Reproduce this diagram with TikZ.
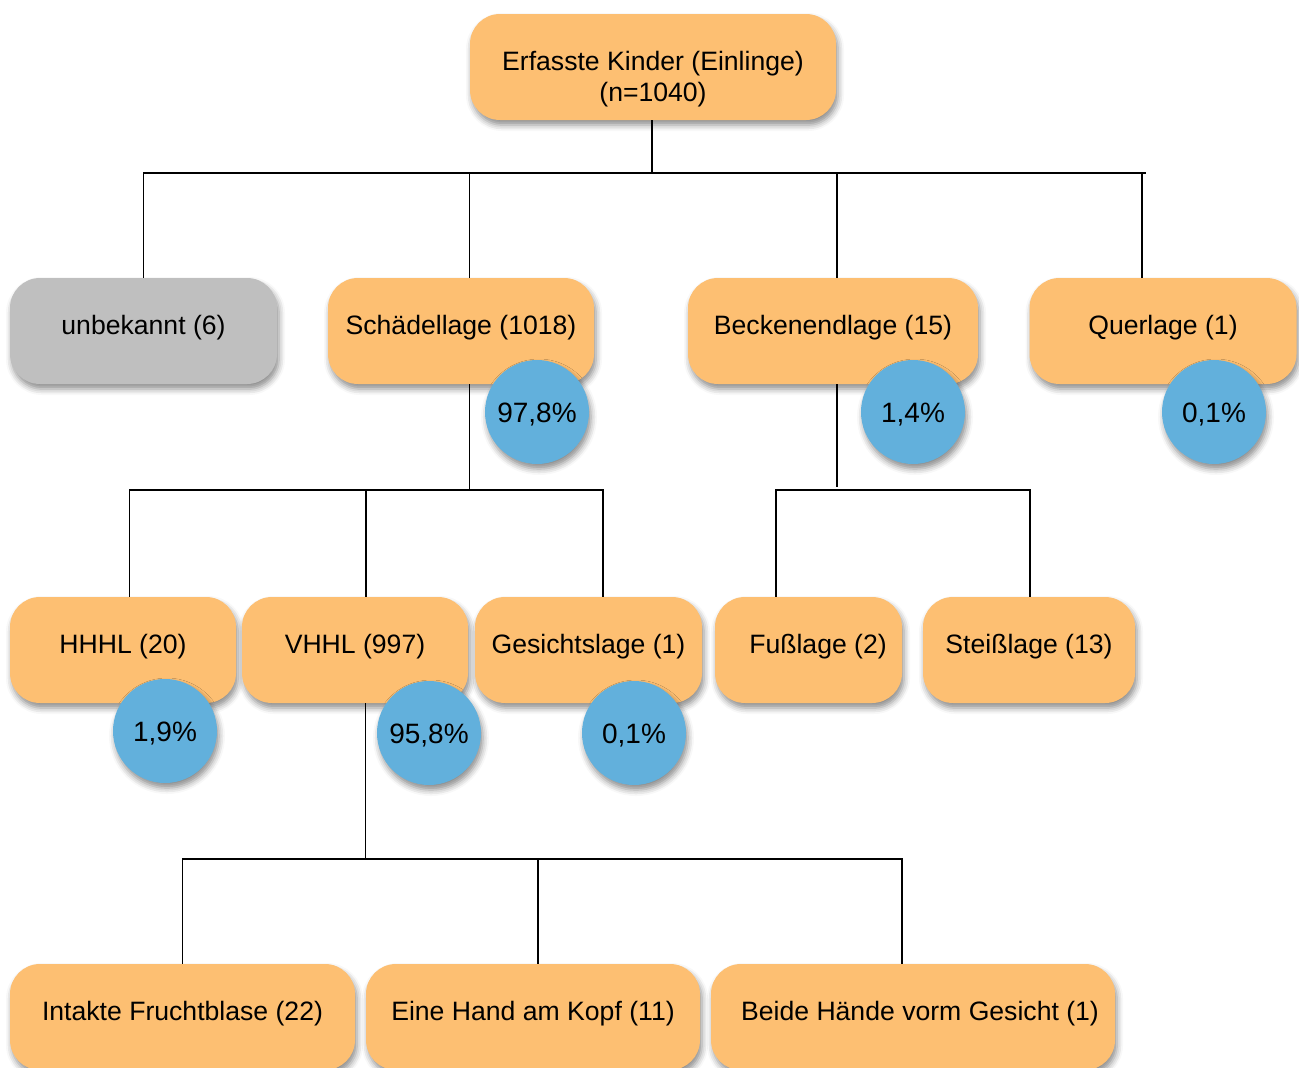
\documentclass[tikz,border=0pt]{standalone}
\usepackage{fontspec}
\setmainfont{Liberation Sans}
\usepackage{xcolor}
\usetikzlibrary{shadows.blur}
\definecolor{lageorange}{HTML}{FDBF72}
\definecolor{lagegray}{HTML}{BFBFBF}
\definecolor{anteilblue}{HTML}{62B0DC}

\begin{document}
\begin{tikzpicture}[x=1pt,y=-1pt]

		\tikzset{lage/.style = {shape=rectangle,rounded corners=30pt,fill=lageorange,minimum height=106pt,inner sep=0pt,
			font=\fontsize{26.6}{31}\selectfont,text height=20pt,text depth=13pt,
			blur shadow={shadow xshift=2pt,shadow yshift=-5pt,shadow blur radius=6pt,shadow opacity=45}}}
		\tikzset{anteil/.style = {shape=circle,fill=anteilblue,minimum size=104pt,inner sep=0pt,
			font=\fontsize{28}{32}\selectfont,text height=20pt,text depth=0pt,
			blur shadow={shadow xshift=2pt,shadow yshift=-5pt,shadow blur radius=6pt,shadow opacity=45}}}
		\tikzset{edge/.style = {-,line width=1.4pt}}
		\path[use as bounding box,clip] (0,0) rectangle (1299,1068);
		\node[lage,minimum width=366pt,text height=50pt,text depth=11pt] (kinder) at (653,67)
			{\begin{tabular}{@{}c@{}}Erfasste Kinder (Einlinge)\\(n=1040)\end{tabular}};
		\node[lage,fill=lagegray,minimum width=267pt] (unbekannt) at (143.5,331) {unbekannt (6)};
		\node[lage,minimum width=266pt] (schaedel) at (461,331) {Schädellage (1018)};
		\node[lage,minimum width=290pt] (becken) at (833,331) {Beckenendlage (15)};
		\node[lage,minimum width=267pt] (quer) at (1163,331) {Querlage (1)};
		\node[lage,minimum width=226pt] (hhhl) at (123,650) {HHHL (20)};
		\node[lage,minimum width=226pt] (vhhl) at (355,650) {VHHL (997)};
		\node[lage,minimum width=227pt] (gesicht) at (588.5,650) {Gesichtslage (1)};
		\node[lage,minimum width=187pt] (fuss) at (808.5,650) {\hspace*{19pt}Fußlage (2)};
		\node[lage,minimum width=212pt] (steiss) at (1029,650) {Steißlage (13)};
		\node[lage,minimum width=345pt] (blase) at (182.5,1017) {Intakte Fruchtblase (22)};
		\node[lage,minimum width=334pt] (hand) at (533,1017) {Eine Hand am Kopf (11)};
		\node[lage,minimum width=404pt] (haende) at (913,1017) {\hspace*{14pt}Beide Hände vorm Gesicht (1)};
		%anteile
		\node[anteil] (schaedelp) at (537,412) {97,8\%};
		\node[anteil] (beckenp) at (913,412) {1,4\%};
		\node[anteil] (querp) at (1214,412) {0,1\%};
		\node[anteil] (hhhlp) at (165,731) {1,9\%};
		\node[anteil] (vhhlp) at (429,733) {95,8\%};
		\node[anteil] (gesichtp) at (634,733) {0,1\%};
		%edges
		\coordinate (lagebus) at (0,173);
		\coordinate (lagebusend) at (1146,173);
		\coordinate (schaedelbus) at (0,490);
		\coordinate (beckenbus) at (0,490);
		\coordinate (vhhlbus) at (0,859);
		\draw[edge] ([xshift=-1pt]kinder.south) -- ([xshift=-1pt]kinder.south |- lagebus);
		\draw[edge] (unbekannt.north) -- (unbekannt.north |- lagebus) -- (lagebusend);
		\draw[edge] ([xshift=-21pt]quer.north |- lagebus) -- ([xshift=-21pt]quer.north);
		\draw[edge] ([xshift=8.5pt]schaedel.north) -- ([xshift=8.5pt]schaedel.north |- lagebus);
		\draw[edge] ([xshift=4pt]becken.north) -- ([xshift=4pt]becken.north |- lagebus);
		\draw[edge] ([xshift=8.5pt]schaedel.south) -- ([xshift=8.5pt]schaedel.south |- schaedelbus);
		\draw[edge] ([xshift=6.5pt]hhhl.north) -- ([xshift=6.5pt]hhhl.north |- schaedelbus) -- ([xshift=14.5pt]gesicht.north |- schaedelbus) -- ([xshift=14.5pt]gesicht.north);
		\draw[edge] ([xshift=11pt]vhhl.north) -- ([xshift=11pt]vhhl.north |- schaedelbus);
		\draw[edge] ([xshift=4pt]becken.south) -- ([xshift=4pt,yshift=3pt]becken.south |- beckenbus);
		\draw[edge] ([xshift=-32.5pt]fuss.north) -- ([xshift=-32.5pt]fuss.north |- beckenbus) -- ([xshift=1pt]steiss.north |- beckenbus) -- ([xshift=1pt]steiss.north);
		\draw[edge] ([xshift=10.5pt]vhhl.south) -- ([xshift=10.5pt]vhhl.south |- vhhlbus);
		\draw[edge] (blase.north) -- (blase.north |- vhhlbus) -- ([xshift=-11pt]haende.north |- vhhlbus) -- ([xshift=-11pt]haende.north);
		\draw[edge] ([xshift=5pt]hand.north) -- ([xshift=5pt]hand.north |- vhhlbus);
		\end{tikzpicture}
\end{document}
